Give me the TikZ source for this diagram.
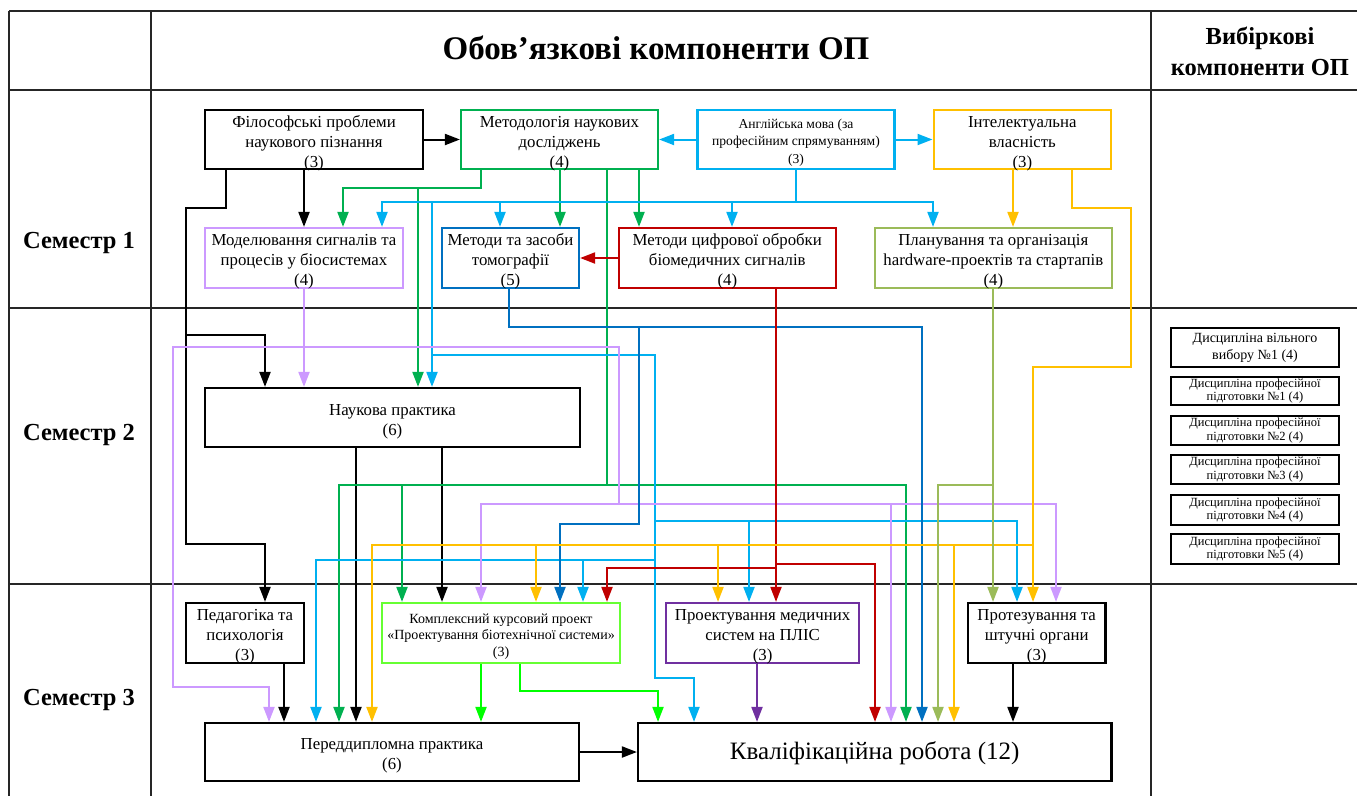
\documentclass[tikz,border=0pt]{standalone}
\usepackage{fontspec}
\setmainfont{Liberation Serif}
\usetikzlibrary{arrows.meta}
\definecolor{cgreen}{HTML}{00B050}
\definecolor{cblue}{HTML}{00B0F0}
\definecolor{cdblue}{HTML}{0070C0}
\definecolor{cyellow}{HTML}{FFC000}
\definecolor{clav}{HTML}{CC99FF}
\definecolor{cred}{HTML}{C00000}
\definecolor{colive}{HTML}{9BBB59}
\definecolor{clime}{HTML}{66FF33}
\definecolor{cbright}{HTML}{00FF00}
\definecolor{cpurple}{HTML}{7030A0}
\newcommand\mystrut{\rule{0pt}{1.15em}}
\begin{document}
\begin{tikzpicture}[x=1pt,y=-1pt,
  box/.style={draw, line width=2.2pt, align=center, inner xsep=0pt, inner ysep=-5pt, font=\fontsize{16.8}{20}\selectfont},
  ebox/.style={draw, line width=2.4pt, align=center, inner sep=0pt, minimum width=168pt, font=\fontsize{12.5}{13.5}\selectfont},
  conn/.style={line width=2pt, -{Triangle[length=15pt,width=11pt]}},
  grid/.style={line width=1.6pt, draw=black!85},
  hdr/.style={font=\bfseries\fontsize{24.5}{31}\selectfont, align=center}]
\useasboundingbox (0,0) rectangle (1357,796);
% table
\draw[grid] (9,11) -- (9,796);
\draw[grid] (151,11) -- (151,796);
\draw[grid] (1151,11) -- (1151,796);
\draw[grid] (9,11) -- (1357,11);
\draw[grid] (9,90) -- (1357,90);
\draw[grid] (9,308) -- (1357,308);
\draw[grid] (9,584) -- (1357,584);
\node[font=\bfseries\fontsize{33}{36}\selectfont] (h1) at (656,48) {Обов’язкові компоненти ОП};
\node[hdr] (h2) at (1260,51) {Вибіркові\\компоненти ОП};
\node[hdr] (s1) at (79,243) {Семестр 1};
\node[hdr] (s2) at (79,435) {Семестр 2};
\node[hdr] (s3) at (79,700) {Семестр 3};
% boxes
\node[box, minimum width=218pt, minimum height=59pt] (phil) at (314,139.5) {\mystrut Філософські проблеми\\наукового пізнання\\(3)};
\node[box, draw=cgreen, minimum width=197pt, minimum height=59pt] (meth) at (559.5,139.5) {\mystrut Методологія наукових\\досліджень\\(4)};
\node[box, draw=cblue, minimum width=197pt, minimum height=59pt, font=\fontsize{13.6}{17.5}\selectfont] (eng) at (796,139.5) {\mystrut Англійська мова (за\\професійним спрямуванням)\\(3)};
\node[box, draw=cyellow, minimum width=177.4pt, minimum height=59pt] (ip) at (1022.3,139.5) {\mystrut Інтелектуальна\\власність\\(3)};
\node[box, draw=clav, minimum width=198pt, minimum height=60pt] (model) at (304,258) {\mystrut Моделювання сигналів та\\процесів у біосистемах\\(4)};
\node[box, draw=cdblue, minimum width=137pt, minimum height=60pt] (tomo) at (510.5,258) {\mystrut Методи та засоби\\томографії\\(5)};
\node[box, draw=cred, minimum width=216.7pt, minimum height=60pt] (dsp) at (727.3,258) {\mystrut Методи цифрової обробки\\біомедичних сигналів\\(4)};
\node[box, draw=colive, minimum width=237.4pt, minimum height=60pt] (plan) at (993.3,258) {\mystrut Планування та організація\\hardware-проектів та стартапів\\(4)};
\node[box, minimum width=375pt, minimum height=59pt] (sci) at (392.5,417.5) {\mystrut Наукова практика\\(6)};
\node[box, minimum width=118pt, minimum height=60pt] (ped) at (245,633) {\mystrut Педагогіка та\\психологія\\(3)};
\node[box, draw=clime, minimum width=238pt, minimum height=60pt, font=\fontsize{14}{16.5}\selectfont] (course) at (501,633) {\mystrut Комплексний курсовий проект\\«Проектування біотехнічної системи»\\(3)};
\node[box, draw=cpurple, minimum width=193.3pt, minimum height=60pt] (fpga) at (762.6,633) {\mystrut Проектування медичних\\систем на ПЛІС\\(3)};
\node[box, minimum width=137.4pt, minimum height=60pt] (prost) at (1036.7,633) {\mystrut Протезування та\\штучні органи\\(3)};
\node[box, minimum width=374pt, minimum height=58pt] (pre) at (392,752) {\mystrut Переддипломна практика\\(6)};
\node[box, minimum width=473.4pt, minimum height=58pt, font=\fontsize{25}{28}\selectfont] (qual) at (874.7,752) {\rule{0pt}{0.78em}Кваліфікаційна робота (12)};
% electives
\node[ebox, minimum height=39pt, font=\fontsize{14}{17}\selectfont] (e0) at (1255,347.5) {Дисципліна вільного\\вибору №1 (4)};
\node[ebox, minimum height=28pt] (e1) at (1255,391) {Дисципліна професійної\\підготовки №1 (4)};
\node[ebox, minimum height=29pt] (e2) at (1255,430.5) {Дисципліна професійної\\підготовки №2 (4)};
\node[ebox, minimum height=29pt] (e3) at (1255,469.5) {Дисципліна професійної\\підготовки №3 (4)};
\node[ebox, minimum height=30pt] (e4) at (1255,510) {Дисципліна професійної\\підготовки №4 (4)};
\node[ebox, minimum height=30pt] (e5) at (1255,549) {Дисципліна професійної\\підготовки №5 (4)};
% black
\draw[conn] (phil.east) -- (meth.west);
\draw[conn] (304,0 |- phil.south) -- (304,0 |- model.north);
\draw[conn] (226,0 |- phil.south) |- (186,208) -- (186,335) -| (265,0 |- sci.north);
\draw[conn] (226,0 |- phil.south) |- (186,208) -- (186,544) -| (265,0 |- ped.north);
\draw[conn] (356,0 |- sci.south) -- (356,0 |- pre.north);
\draw[conn] (442,0 |- sci.south) -- (442,0 |- course.north);
\draw[conn] (284,0 |- ped.south) -- (284,0 |- pre.north);
\draw[conn] (pre.east) -- (qual.west);
\draw[conn] (1013,0 |- prost.south) -- (1013,0 |- qual.north);
% green from meth
\draw[conn, cgreen] (481,0 |- meth.south) |- (343,188) -- (343,0 |- model.north);
\draw[conn, cgreen] (481,0 |- meth.south) |- (418,188) -- (418,0 |- sci.north);
\draw[conn, cgreen] (560,0 |- meth.south) -- (560,0 |- tomo.north);
\draw[conn, cgreen] (639,0 |- meth.south) -- (639,0 |- dsp.north);
\draw[conn, cgreen] (607,0 |- meth.south) |- (339,485) -- (339,0 |- pre.north);
\draw[conn, cgreen] (607,0 |- meth.south) |- (402,485) -- (402,0 |- course.north);
\draw[conn, cgreen] (607,0 |- meth.south) |- (906,485) -- (906,0 |- qual.north);
% light blue from eng
\draw[conn, cblue] (eng.west) -- (meth.east);
\draw[conn, cblue] (eng.east) -- (ip.west);
\draw[conn, cblue] (eng.south) |- (382,202) -- (382,0 |- model.north);
\draw[conn, cblue] (eng.south) |- (500,202) -- (500,0 |- tomo.north);
\draw[conn, cblue] (eng.south) |- (732,202) -- (732,0 |- dsp.north);
\draw[conn, cblue] (eng.south) |- (933,202) -- (933,0 |- plan.north);
\draw[conn, cblue] (eng.south) |- (432,202) -- (432,0 |- sci.north);
\draw[conn, cblue] (eng.south) |- (432,202) |- (655,355) -- (655,560) -| (583,0 |- course.north);
\draw[conn, cblue] (eng.south) |- (432,202) |- (655,355) -- (655,560) -| (316,0 |- pre.north);
\draw[conn, cblue] (eng.south) |- (432,202) |- (655,355) -- (655,678) -| (694,0 |- qual.north);
\draw[conn, cblue] (eng.south) |- (432,202) |- (655,355) -- (655,521) -| (749,0 |- fpga.north);
\draw[conn, cblue] (eng.south) |- (432,202) |- (655,355) -- (655,521) -| (1017,0 |- prost.north);
% lavender from model
\draw[conn, clav] (model.south) -- (304,0 |- sci.north);
\draw[conn, clav] (model.south) |- (173,347) |- (269,687) -- (269,0 |- pre.north);
\draw[conn, clav] (model.south) |- (619,347) |- (481,504) -- (481,0 |- course.north);
\draw[conn, clav] (model.south) |- (619,347) |- (891,504) -- (891,0 |- qual.north);
\draw[conn, clav] (model.south) |- (619,347) |- (1056,504) -- (1056,0 |- prost.north);
% dark blue from tomo
\draw[conn, cdblue] (509,0 |- tomo.south) |- (922,327) -- (922,0 |- qual.north);
\draw[conn, cdblue] (509,0 |- tomo.south) |- (639,327) |- (560,524) -- (560,0 |- course.north);
% red from dsp
\draw[conn, cred] (dsp.west) -- (tomo.east);
\draw[conn, cred] (776,0 |- dsp.south) -- (776,0 |- fpga.north);
\draw[conn, cred] (776,0 |- dsp.south) |- (875,564) -- (875,0 |- qual.north);
\draw[conn, cred] (776,0 |- dsp.south) |- (607,568) -- (607,0 |- course.north);
% yellow from ip
\draw[conn, cyellow] (1013,0 |- ip.south) -- (1013,0 |- plan.north);
\draw[conn, cyellow] (1072,0 |- ip.south) |- (1131,208) |- (1033,367) -- (1033,0 |- prost.north);
\draw[conn, cyellow] (1072,0 |- ip.south) |- (1131,208) |- (1033,367) |- (372,545) -- (372,0 |- pre.north);
\draw[conn, cyellow] (1072,0 |- ip.south) |- (1131,208) |- (1033,367) |- (536,545) -- (536,0 |- course.north);
\draw[conn, cyellow] (1072,0 |- ip.south) |- (1131,208) |- (1033,367) |- (718,545) -- (718,0 |- fpga.north);
\draw[conn, cyellow] (1072,0 |- ip.south) |- (1131,208) |- (1033,367) |- (954,545) -- (954,0 |- qual.north);
% olive from plan
\draw[conn, colive] (993,0 |- plan.south) -- (993,0 |- prost.north);
\draw[conn, colive] (993,0 |- plan.south) |- (938,485) -- (938,0 |- qual.north);
% course
\draw[conn, cbright] (481,0 |- course.south) -- (481,0 |- pre.north);
\draw[conn, cbright] (520,0 |- course.south) |- (658,691) -- (658,0 |- qual.north);
% fpga
\draw[conn, cpurple] (757,0 |- fpga.south) -- (757,0 |- qual.north);
\end{tikzpicture}
\end{document}
